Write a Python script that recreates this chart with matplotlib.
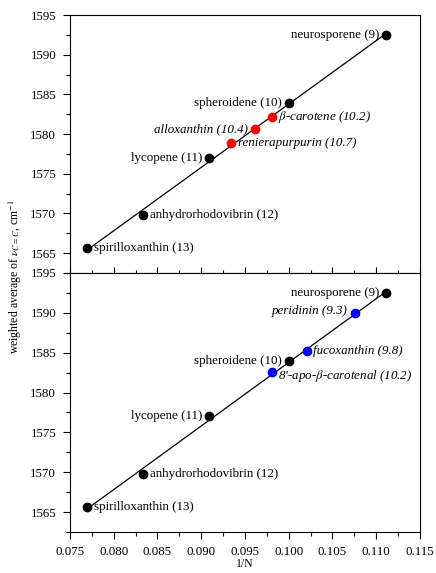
import numpy as np
import matplotlib
matplotlib.use('Agg')
from matplotlib import pyplot as plt
from matplotlib.ticker import MultipleLocator

plt.rcParams['font.family'] = ['Liberation Serif', 'DejaVu Serif']
plt.rcParams['mathtext.fontset'] = 'stix'
plt.rcParams['font.size'] = 9.4

# reference carotenoids (conjugation length N)
ref_names = ['spirilloxanthin (13)', 'anhydrorhodovibrin (12)', 'lycopene (11)',
             'spheroidene (10)', 'neurosporene (9)']
ref_N = [13, 12, 11, 10, 9]
ref_nu = [1565.6, 1569.8, 1577.0, 1583.9, 1592.5]
ref_side = ['right', 'right', 'left', 'left', 'left']

# top panel: red points
red_names = [r'$\beta$-carotene (10.2)', 'alloxanthin (10.4)', 'renierapurpurin (10.7)']
red_N = [10.2, 10.4, 10.7]
red_nu = [1582.1, 1580.6, 1578.9]
red_side = ['right', 'left', 'right']

# bottom panel: blue points
blue_names = ['peridinin (9.3)', 'fucoxanthin (9.8)', r"8'-apo-$\beta$-carotenal (10.2)"]
blue_N = [9.3, 9.8, 10.2]
blue_nu = [1590.0, 1585.2, 1582.6]
blue_side = ['left', 'right', 'right']
blue_dy = [1, 0, -3]

x_ref = 1 / np.array(ref_N, dtype=float)
k, b = np.polyfit(x_ref, ref_nu, 1)
x_fit = np.array([x_ref.min(), x_ref.max()])


def label(ax, x, y, text, side, italic=False, dy=0):
    if side == 'right':
        ax.annotate(text, (x, y), xytext=(5, dy), textcoords='offset points',
                    ha='left', va='center', fontstyle='italic' if italic else 'normal')
    else:
        ax.annotate(text, (x, y), xytext=(-5, dy), textcoords='offset points',
                    ha='right', va='center', fontstyle='italic' if italic else 'normal')


def base(ax):
    ax.plot(x_fit, k * x_fit + b, color='black', lw=0.9, zorder=1)
    ax.plot(x_ref, ref_nu, 'o', color='black', ms=6, zorder=3)
    for x, y, t, s in zip(x_ref, ref_nu, ref_names, ref_side):
        label(ax, x, y, t, s)
    ax.set_xlim(0.075, 0.115)
    ax.set_ylim(1562.5, 1595)
    ax.yaxis.set_major_locator(MultipleLocator(5))
    ax.yaxis.set_minor_locator(MultipleLocator(2.5))
    ax.xaxis.set_major_locator(MultipleLocator(0.005))
    ax.xaxis.set_minor_locator(MultipleLocator(0.0025))
    ax.tick_params(which='major', direction='out', length=5, width=0.8)
    ax.tick_params(which='minor', direction='out', length=3, width=0.8)
    ax.tick_params(axis='y', which='major', pad=5)
    ax.tick_params(axis='x', which='major', pad=5)
    for sp in ax.spines.values():
        sp.set_linewidth(0.8)


fig = plt.figure(figsize=(4.36, 5.73), dpi=100)
ax1 = fig.add_axes([0.1606, 0.5236, 0.8024, 0.4502])
ax2 = fig.add_axes([0.1606, 0.0716, 0.8024, 0.452])

base(ax1)
x_red = 1 / np.array(red_N)
ax1.plot(x_red, red_nu, 'o', color='#ff0000', ms=6, zorder=3)
for x, y, t, s in zip(x_red, red_nu, red_names, red_side):
    label(ax1, x, y, t, s, italic=True)
ax1.tick_params(axis='x', which='both', labelbottom=False, direction='inout')
ax1.tick_params(axis='x', which='major', length=8)
ax1.tick_params(axis='x', which='minor', length=5)

base(ax2)
x_blue = 1 / np.array(blue_N)
ax2.plot(x_blue, blue_nu, 'o', color='#0000ff', ms=6, zorder=3)
for x, y, t, s, d in zip(x_blue, blue_nu, blue_names, blue_side, blue_dy):
    label(ax2, x, y, t, s, italic=True, dy=d)
ax2.set_xlabel('1/N', labelpad=0, fontsize=8.5)
ax2.set_xticks([0.075, 0.080, 0.085, 0.090, 0.095, 0.100, 0.105, 0.110, 0.115])
ax2.set_xticklabels(['0.075', '0.080', '0.085', '0.090', '0.095', '0.100',
                     '0.105', '0.110', '0.115'])

fig.text(0.035, 0.517, r'weighted average of $\nu_{C=C}$, cm$^{-1}$',
         rotation=90, ha='center', va='center', fontsize=8.5)

fig.savefig('out.png', dpi=100)
